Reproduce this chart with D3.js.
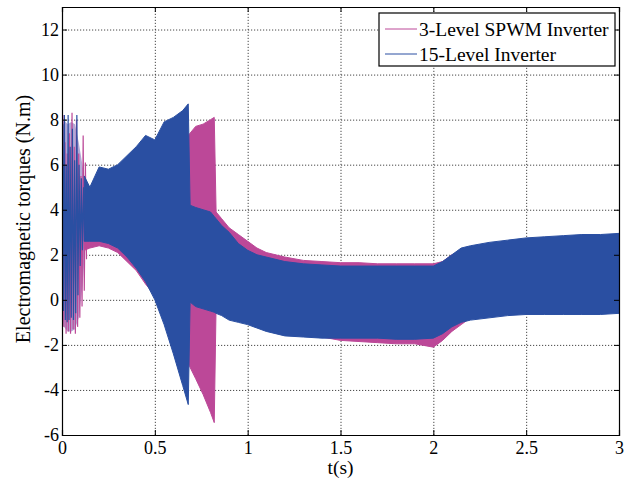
<!DOCTYPE html>
<html>
<head>
<meta charset="utf-8">
<script src="https://cdn.jsdelivr.net/npm/d3@7"></script>
<style>
  html, body { margin: 0; padding: 0; background: #fff; }
  svg { display: block; }
  text { font-family: "Liberation Serif", "Times New Roman", serif; fill: #000; }
</style>
</head>
<body>
<script>
// ---------- data ----------
const seriesNames = ["3-Level SPWM Inverter", "15-Level Inverter"];
const xTicks = [0, 0.5, 1, 1.5, 2, 2.5, 3];
const yTicks = [-6, -4, -2, 0, 2, 4, 6, 8, 10, 12];

// start-up transient: overall extent of the overlapping traces
const startEnvT = [0.0, 0.01, 0.03, 0.05, 0.07, 0.09, 0.11, 0.125];
const startEnvUpper = [7.6, 8.0, 7.8, 7.9, 7.8, 7.0, 6.0, 5.2];
const startEnvLower = [-0.6, -1.2, -1.4, -1.4, -1.3, -0.8, 0.6, 2.3];

// start-up transient: individual peaks / troughs
const spwmStartT = [0.000,0.005,0.010,0.016,0.022,0.028,0.034,0.040,0.046,0.054,0.060,0.066,0.072,0.078,0.084,0.090,0.096,0.102,0.108,0.114,0.120,0.126,0.132];
const spwmStartV = [1.0,8.2,-1.2,7.0,-1.5,6.5,-1.4,7.4,-1.5,8.3,-1.3,6.8,-1.5,8.0,-1.2,6.5,-0.8,5.5,-0.3,7.3,0.4,6.1,1.8];
const mlStartT = [0.000,0.004,0.008,0.013,0.018,0.023,0.028,0.033,0.038,0.044,0.050,0.056,0.062,0.068,0.074,0.080,0.086,0.092,0.098,0.104,0.110,0.116,0.122];
const mlStartV = [0.3,7.8,-0.5,8.2,-0.9,6.0,-1.0,8.2,-0.9,6.8,-0.8,7.6,-0.9,6.2,-0.6,8.2,0.2,6.0,1.5,5.4,2.2,5.0,2.6];

// oscillation envelopes after start-up
const tEnv = [0.12,0.15,0.2,0.25,0.3,0.35,0.4,0.45,0.5,0.55,0.6,0.65,0.68,0.69,0.72,0.76,0.8,0.82,0.83,0.86,0.9,0.95,1.0,1.05,1.1,1.2,1.3,1.4,1.5,1.6,1.7,1.8,1.9,2.0,2.05,2.1,2.15,2.2,2.3,2.4,2.5,2.6,2.7,2.8,2.9,3.0];
const spwmUpper = [4.5,4.4,4.6,4.8,5.0,5.3,5.6,5.9,6.2,6.5,6.8,7.1,7.3,7.4,7.7,7.8,8.0,8.1,3.9,3.6,3.2,2.9,2.6,2.3,2.1,1.9,1.75,1.7,1.65,1.65,1.6,1.6,1.6,1.6,1.7,2.0,2.2,2.3,2.45,2.55,2.6,2.65,2.7,2.7,2.75,2.8];
const spwmLower = [2.2,2.3,2.4,2.3,2.1,1.7,1.3,0.7,0.2,-0.6,-1.3,-2.2,-2.8,-3.0,-3.5,-4.2,-5.0,-5.45,-0.2,-0.5,-0.7,-0.9,-1.0,-1.2,-1.3,-1.5,-1.6,-1.65,-1.8,-1.85,-1.9,-1.95,-1.95,-2.1,-1.8,-1.4,-1.1,-0.8,-0.65,-0.55,-0.5,-0.5,-0.5,-0.5,-0.5,-0.45];
const mlUpper = [5.5,5.0,5.9,5.8,6.0,6.4,6.8,7.3,7.1,7.9,8.1,8.4,8.7,4.2,4.1,4.0,3.9,3.7,3.6,3.3,3.0,2.5,2.2,2.0,1.9,1.7,1.6,1.55,1.5,1.5,1.5,1.5,1.5,1.5,1.7,2.0,2.3,2.4,2.55,2.65,2.75,2.8,2.85,2.9,2.9,2.95];
const mlLower = [2.6,2.6,2.6,2.5,2.3,1.9,1.4,0.8,0.0,-1.1,-2.4,-3.8,-4.65,-0.1,-0.3,-0.4,-0.5,-0.55,-0.6,-0.7,-0.9,-1.0,-1.1,-1.25,-1.4,-1.6,-1.65,-1.7,-1.7,-1.7,-1.7,-1.75,-1.75,-1.7,-1.5,-1.2,-1.0,-0.9,-0.8,-0.7,-0.65,-0.65,-0.65,-0.65,-0.65,-0.6];

const colors = ["#bc4898", "#2a4fa2"];
const startFill = "#b3a9d6";

// ---------- layout ----------
const W = 634, H = 479;
const m = { left: 62, right: 15, top: 7, bottom: 44 };
const iw = W - m.left - m.right, ih = H - m.top - m.bottom;

const svg = d3.select("body").append("svg").attr("width", W).attr("height", H);
const g = svg.append("g").attr("transform", `translate(${m.left},${m.top})`);

const x = d3.scaleLinear().domain([0, 3]).range([0, iw]);
const y = d3.scaleLinear().domain([-6, 13]).range([ih, 0]);

// grid
const gridX = g.append("g").attr("transform", `translate(0,${ih})`)
  .call(d3.axisBottom(x).tickValues(xTicks).tickSize(-ih).tickFormat(""));
const gridY = g.append("g")
  .call(d3.axisLeft(y).tickValues(yTicks).tickSize(-iw).tickFormat(""));
[gridX, gridY].forEach(s => {
  s.select(".domain").remove();
  s.selectAll("line").attr("stroke", "#333").attr("stroke-width", 0.9).attr("stroke-dasharray", "1.2,1.8");
});

// data
g.append("clipPath").attr("id", "clip").append("rect").attr("width", iw).attr("height", ih);
const plot = g.append("g").attr("clip-path", "url(#clip)");

const area = d3.area().x(d => x(d.t)).y0(d => y(d.l)).y1(d => y(d.u));
const line = d3.line().x(d => x(d[0])).y(d => y(d[1]));

plot.append("path")
  .datum(startEnvT.map((t, i) => ({ t, u: startEnvUpper[i], l: startEnvLower[i] })))
  .attr("d", area).attr("fill", startFill);

const series = [
  { env: tEnv.map((t, i) => ({ t, u: spwmUpper[i], l: spwmLower[i] })), st: spwmStartT.map((t, i) => [t, spwmStartV[i]]), c: colors[0] },
  { env: tEnv.map((t, i) => ({ t, u: mlUpper[i], l: mlLower[i] })), st: mlStartT.map((t, i) => [t, mlStartV[i]]), c: colors[1] }
];
series.forEach(s => {
  plot.append("path").datum(s.env).attr("d", area).attr("fill", s.c).attr("stroke", s.c).attr("stroke-width", 1);
  plot.append("path").datum(s.st).attr("d", line).attr("fill", "none").attr("stroke", s.c).attr("stroke-width", 1.2);
});

// axes (inward ticks on all four sides)
const fmt = d => String(d);
const axB = g.append("g").attr("transform", `translate(0,${ih})`)
  .call(d3.axisBottom(x).tickValues(xTicks).tickSize(-5).tickPadding(6).tickFormat(fmt));
const axL = g.append("g")
  .call(d3.axisLeft(y).tickValues(yTicks).tickSize(-5).tickPadding(3).tickFormat(fmt));
const axT = g.append("g").call(d3.axisTop(x).tickValues(xTicks).tickSize(-5).tickFormat(""));
const axR = g.append("g").attr("transform", `translate(${iw},0)`)
  .call(d3.axisRight(y).tickValues(yTicks).tickSize(-5).tickFormat(""));
[axB, axL, axT, axR].forEach(a => {
  a.selectAll("path.domain").attr("stroke", "#000").attr("stroke-width", 1.2);
  a.selectAll(".tick line").attr("stroke", "#000");
  a.selectAll("text").style("font-family", '"Liberation Serif", serif').style("font-size", "18px").attr("fill", "#000");
});

// labels
svg.append("text").attr("x", m.left + iw / 2).attr("y", 474).attr("text-anchor", "middle")
  .style("font-size", "19.5px").text("t(s)");
svg.append("text").attr("transform", `translate(30,${m.top + ih / 2 - 2}) rotate(-90)`).attr("text-anchor", "middle")
  .style("font-size", "20px").text("Electromagnetic torques (N.m)");

// legend
const lg = svg.append("g");
lg.append("rect").attr("x", 379).attr("y", 13).attr("width", 236).attr("height", 53)
  .attr("fill", "#fff").attr("stroke", "#000").attr("stroke-width", 1.2);
seriesNames.forEach((n, i) => {
  const yy = 29 + i * 25;
  lg.append("line").attr("x1", 385).attr("x2", 417).attr("y1", yy).attr("y2", yy)
    .attr("stroke", colors[i]).attr("stroke-width", 1);
  lg.append("text").attr("x", 419).attr("y", yy + 6.5).style("font-size", "19.5px").text(n);
});
</script>
</body>
</html>
